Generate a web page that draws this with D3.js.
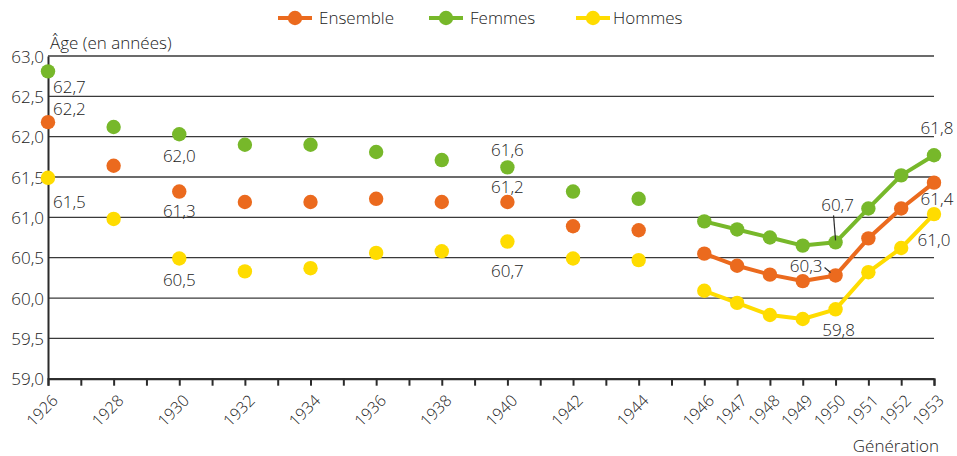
<!DOCTYPE html>
<html lang="fr">
	<head>
		<meta charset="utf-8">
		<title>Âge moyen par génération</title>
		<style>
			body { margin: 0; background: #fff; }
			#chart text { font-family: "Open Sans", sans-serif; font-weight: 300; fill: #222; }
			.grid line { stroke: #3a3a3a; stroke-width: 1.3; }
		</style>
	</head>
	<body>
		<svg id="chart" width="957" height="456"></svg>

		<script src="https://d3js.org/d3.v7.min.js"></script>
		<script>
			"use strict";

			// générations
			var years = [1926, 1928, 1930, 1932, 1934, 1936, 1938, 1940, 1942, 1944,
				1946, 1947, 1948, 1949, 1950, 1951, 1952, 1953];
			var ensemble = [62.18, 61.64, 61.32, 61.19, 61.19, 61.23, 61.19, 61.19, 60.89, 60.84,
				60.55, 60.40, 60.29, 60.21, 60.28, 60.74, 61.11, 61.43];
			var femmes = [62.81, 62.12, 62.03, 61.90, 61.90, 61.81, 61.71, 61.62, 61.32, 61.23,
				60.95, 60.85, 60.75, 60.65, 60.69, 61.11, 61.52, 61.77];
			var hommes = [61.49, 60.98, 60.49, 60.33, 60.37, 60.56, 60.58, 60.70, 60.49, 60.47,
				60.09, 59.94, 59.79, 59.74, 59.86, 60.32, 60.62, 61.04];
			var lineFrom = 1946; // les points ne sont reliés qu'à partir de 1946

			var yTicks = [59, 59.5, 60, 60.5, 61, 61.5, 62, 62.5, 63];
			var xLabels = [1926, 1928, 1930, 1932, 1934, 1936, 1938, 1940, 1942, 1944,
				1946, 1947, 1948, 1949, 1950, 1951, 1952, 1953];

			// étiquettes de valeurs : [série, année, texte]
			var valueLabels = [
				["femmes", 1926, "62,7"], ["ensemble", 1926, "62,2"], ["hommes", 1926, "61,5"],
				["femmes", 1930, "62,0"], ["ensemble", 1930, "61,3"], ["hommes", 1930, "60,5"],
				["femmes", 1940, "61,6"], ["ensemble", 1940, "61,2"], ["hommes", 1940, "60,7"],
				["femmes", 1950, "60,7"], ["ensemble", 1950, "60,3"], ["hommes", 1950, "59,8"],
				["femmes", 1953, "61,8"], ["ensemble", 1953, "61,4"], ["hommes", 1953, "61,0"]
			];

			var series = [
				{ key: "ensemble", name: "Ensemble", values: ensemble, color: "#eb6a1e" },
				{ key: "femmes", name: "Femmes", values: femmes, color: "#77b82a" },
				{ key: "hommes", name: "Hommes", values: hommes, color: "#ffdc00" }
			];

			// placement des étiquettes (dx, dy, ancrage, trait de rappel)
			var labelPos = {
				"femmes-1926": [5, 22, "start"], "ensemble-1926": [5, -7, "start"], "hommes-1926": [5, 30, "start"],
				"femmes-1930": [0, 28, "middle"], "ensemble-1930": [0, 25, "middle"], "hommes-1930": [0, 28, "middle"],
				"femmes-1940": [0, -11, "middle"], "ensemble-1940": [0, -9, "middle"], "hommes-1940": [0, 35, "middle"],
				"femmes-1950": [2, -31, "middle", true], "ensemble-1950": [-13, -3, "end", true], "hommes-1950": [3, 27, "middle"],
				"femmes-1953": [3, -21, "middle"], "ensemble-1953": [3, 22, "middle"], "hommes-1953": [0, 32, "middle"]
			};

			var svg = d3.select("#chart");

			var x = d3.scaleLinear().domain([1926, 1953]).range([48, 934]);
			var y = d3.scaleLinear().domain([59, 63]).range([378.7, 56]);

			// grille horizontale
			svg.append("g")
				.attr("class", "grid")
				.selectAll("line")
				.data(yTicks)
				.enter()
				.append("line")
				.attr("x1", x(1926))
				.attr("x2", x(1953))
				.attr("y1", function(d){ return y(d); })
				.attr("y2", function(d){ return y(d); });

			// axe vertical
			var yAxis = d3.axisLeft(y)
				.tickValues(yTicks)
				.tickSize(0)
				.tickPadding(4)
				.tickFormat(function(d){ return d3.format(".1f")(d).replace(".", ","); });
			var gy = svg.append("g").attr("transform", "translate(" + x(1926) + ",0)").call(yAxis);
			gy.select(".domain").attr("stroke", "#2b2b2b").attr("stroke-width", 2);
			gy.selectAll("text").style("font-size", "17px").attr("dy", "0.36em");

			// axe horizontal : une graduation par année, libellés posés à part
			var xAxis = d3.axisBottom(x)
				.tickValues(d3.range(1926, 1954))
				.tickSize(7)
				.tickFormat("");
			var gx = svg.append("g").attr("transform", "translate(0," + y(59) + ")").call(xAxis);
			gx.select(".domain").attr("stroke", "#2b2b2b").attr("stroke-width", 2);
			gx.selectAll(".tick line").attr("stroke", "#2b2b2b").attr("stroke-width", 2);

			svg.append("g")
				.selectAll("text")
				.data(xLabels)
				.enter()
				.append("text")
				.attr("text-anchor", "end")
				.attr("transform", function(d){ return "translate(" + (x(d) + 7) + "," + (y(59) + 19) + ") rotate(-45)"; })
				.attr("dy", "0.35em")
				.style("font-size", "16px")
				.text(function(d){ return d; });

			// séries
			series.forEach(function(s){
				var pts = years.map(function(yr, i){ return { year: yr, value: s.values[i] }; });
				var line = d3.line()
					.x(function(d){ return x(d.year); })
					.y(function(d){ return y(d.value); });

				svg.append("path")
					.datum(pts.filter(function(d){ return d.year >= lineFrom; }))
					.attr("fill", "none")
					.attr("stroke", s.color)
					.attr("stroke-width", 4)
					.attr("stroke-linejoin", "round")
					.attr("d", line);

				svg.append("g")
					.selectAll("circle")
					.data(pts)
					.enter()
					.append("circle")
					.attr("cx", function(d){ return x(d.year); })
					.attr("cy", function(d){ return y(d.value); })
					.attr("r", 7.2)
					.attr("fill", s.color);
			});

			// étiquettes de valeurs
			valueLabels.forEach(function(l){
				var s = series.filter(function(d){ return d.key === l[0]; })[0];
				var v = s.values[years.indexOf(l[1])];
				var p = labelPos[l[0] + "-" + l[1]];
				var px = x(l[1]), py = y(v);
				if (p[3]) {
					if (p[2] === "end") {
						svg.append("line")
							.attr("x1", px + p[0] + 2).attr("y1", py + p[1] - 5)
							.attr("x2", px - 5).attr("y2", py - 3)
							.attr("stroke", "#2b2b2b").attr("stroke-width", 1.2);
					} else {
						svg.append("line")
							.attr("x1", px - 2).attr("y1", py + p[1] + 4)
							.attr("x2", px).attr("y2", py - 2)
							.attr("stroke", "#2b2b2b").attr("stroke-width", 1.2);
					}
				}
				svg.append("text")
					.attr("x", px + p[0])
					.attr("y", py + p[1])
					.attr("text-anchor", p[2])
					.style("font-size", "17px")
					.text(l[2]);
			});

			// titres d'axes
			svg.append("text").attr("x", 50).attr("y", 49).style("font-size", "17px").text("Âge (en années)");
			svg.append("text").attr("x", 939).attr("y", 452).attr("text-anchor", "end").style("font-size", "17px").text("Génération");

			// légende
			var leg = svg.append("g").selectAll("g")
				.data(series)
				.enter()
				.append("g")
				.attr("transform", function(d, i){ return "translate(" + [278, 429, 576][i] + ",18)"; });
			leg.append("line").attr("x1", 0).attr("x2", 34)
				.attr("stroke", function(d){ return d.color; }).attr("stroke-width", 4);
			leg.append("circle").attr("cx", 17).attr("r", 7.2).attr("fill", function(d){ return d.color; });
			leg.append("text").attr("x", function(d, i){ return i === 2 ? 37 : 41; }).attr("dy", "0.35em")
				.style("font-size", "17px").text(function(d){ return d.name; });
		</script>
	</body>
</html>
